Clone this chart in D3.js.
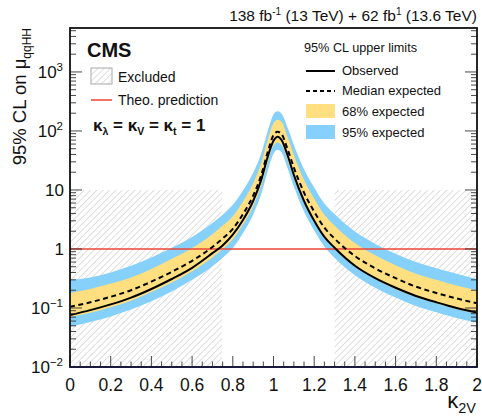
<!DOCTYPE html>
<html><head><meta charset="utf-8">
<script src="https://cdn.jsdelivr.net/npm/d3@7"></script>
<style>
html,body{margin:0;padding:0;background:#fff;}
svg{display:block;font-family:"Liberation Sans",Arial,Helvetica,sans-serif;}
</style></head>
<body><svg id="c" width="482" height="418"></svg>
<script>
// ---- data ----
const k2v = [0,0.1,0.2,0.3,0.4,0.5,0.6,0.7,0.75,0.8,0.85,0.9,0.94,0.97,1.0,1.02,1.04,1.07,1.1,1.15,1.2,1.25,1.3,1.4,1.5,1.6,1.7,1.8,1.9,2.0];
const observed = [0.076,0.092,0.115,0.15,0.21,0.31,0.48,0.85,1.15,1.75,3.1,6.5,15,35,68,80,70,38,18,6.5,3.0,1.6,1.05,0.52,0.32,0.22,0.16,0.125,0.10,0.084];
const median   = [0.105,0.125,0.155,0.2,0.28,0.41,0.63,1.08,1.5,2.2,3.9,8.0,18,42,85,97,88,48,24,9.0,4.3,2.3,1.5,0.76,0.47,0.32,0.23,0.18,0.145,0.12];
const band68lo = [0.071,0.083,0.103,0.133,0.186,0.27,0.42,0.72,1.0,1.46,2.6,5.3,12,28,57,64,58,32,16,6.0,2.85,1.53,1.0,0.5,0.31,0.21,0.153,0.12,0.096,0.08];
const band68hi = [0.18,0.21,0.26,0.33,0.46,0.68,1.04,1.78,2.5,3.6,6.4,13,29,68,135,155,142,78,39,14.8,7.1,3.8,2.5,1.26,0.78,0.53,0.38,0.3,0.24,0.2];
const band95lo = [0.048,0.058,0.072,0.094,0.13,0.19,0.30,0.51,0.71,1.04,1.85,3.8,8.6,20,41,48,43,23,11.5,4.3,2.05,1.1,0.71,0.36,0.22,0.15,0.108,0.085,0.068,0.056];
const band95hi = [0.30,0.33,0.40,0.52,0.72,1.05,1.6,2.75,3.8,5.6,9.8,19.5,42,95,190,215,195,112,58,22.5,11,5.9,3.9,1.97,1.22,0.83,0.6,0.47,0.38,0.31];
const excluded = [[0,0.747],[1.30,2]];   // kappa_2V ranges
const excludedTop = 10;
const theoPrediction = 1;
const xTicks = [0,0.2,0.4,0.6,0.8,1,1.2,1.4,1.6,1.8,2];
const xTickLabels = ["0","0.2","0.4","0.6","0.8","1","1.2","1.4","1.6","1.8","2"];
const yTicks = [0.01,0.1,1,10,100,1000];
const yTickBase = ["10","10","1","10","10","10"];
const yTickExp  = ["\u22122","\u22121","","","2","3"];

// ---- layout ----
const svg = d3.select("#c");
const L=70, R=477, T=28, B=367;
const x = d3.scaleLinear().domain([0,2]).range([L,R]);
const y = d3.scaleLog().domain([0.01, Math.pow(10,3.745)]).range([B,T]);

const defs = svg.append("defs");
const pat = defs.append("pattern").attr("id","hatch").attr("patternUnits","userSpaceOnUse")
  .attr("width",4.5).attr("height",4.5).attr("patternTransform","rotate(45)");
pat.append("line").attr("x1",0).attr("y1",0).attr("x2",0).attr("y2",4.5)
  .attr("stroke","#bdbdbd").attr("stroke-width",1);
defs.append("clipPath").attr("id","clip").append("rect")
  .attr("x",L).attr("y",T).attr("width",R-L).attr("height",B-T);

const g = svg.append("g").attr("clip-path","url(#clip)");
// excluded hatched regions
g.selectAll("rect.ex").data(excluded).join("rect").attr("class","ex")
  .attr("x",d=>x(d[0])).attr("width",d=>x(d[1])-x(d[0]))
  .attr("y",y(excludedTop)).attr("height",B-y(excludedTop))
  .attr("fill","url(#hatch)");

const idx = d3.range(k2v.length);
const area = (lo,hi)=>d3.area().curve(d3.curveMonotoneX)
  .x(i=>x(k2v[i])).y0(i=>y(lo[i])).y1(i=>y(hi[i]));
g.append("path").attr("d",area(band95lo,band95hi)(idx)).attr("fill","#85D1FB");
g.append("path").attr("d",area(band68lo,band68hi)(idx)).attr("fill","#FFDF7F");

// theory line
g.append("line").attr("x1",L).attr("x2",R).attr("y1",y(theoPrediction)).attr("y2",y(theoPrediction))
  .attr("stroke","#ec4438").attr("stroke-width",1.5);

const line = arr=>d3.line().curve(d3.curveMonotoneX).x(i=>x(k2v[i])).y(i=>y(arr[i]));
g.append("path").attr("d",line(median)(idx)).attr("fill","none").attr("stroke","#000")
  .attr("stroke-width",2).attr("stroke-dasharray","5,3.5");
g.append("path").attr("d",line(observed)(idx)).attr("fill","none").attr("stroke","#000")
  .attr("stroke-width",2);

// ---- axes (ticks inside) ----
const ax = svg.append("g");
const xMinor = d3.range(0,2.0001,0.05);
xMinor.forEach(v=>{
  const major = xTicks.some(t=>Math.abs(t-v)<1e-6);
  ax.append("line").attr("x1",x(v)).attr("x2",x(v)).attr("y1",B).attr("y2",B-(major?11:5.5))
    .attr("stroke","#333").attr("stroke-width",0.9);
});
xTicks.forEach((v,i)=>{
  ax.append("text").attr("x",x(v)).attr("y",391).attr("text-anchor","middle")
    .attr("font-size",17.5).attr("fill","#111").text(xTickLabels[i]);
});
const yMinor=[];
for(let e=-2;e<=3;e++){ for(let m=1;m<=9;m++){ const v=m*Math.pow(10,e); if(v<=Math.pow(10,3.745)) yMinor.push(v);} }
yMinor.forEach(v=>{
  const major = Math.abs(Math.log10(v)-Math.round(Math.log10(v)))<1e-9;
  const len = major?12:6;
  ax.append("line").attr("x1",L).attr("x2",L+len).attr("y1",y(v)).attr("y2",y(v)).attr("stroke","#333").attr("stroke-width",0.9);
  ax.append("line").attr("x1",R).attr("x2",R-len).attr("y1",y(v)).attr("y2",y(v)).attr("stroke","#333").attr("stroke-width",0.9);
});
yTicks.forEach((v,i)=>{
  const t = ax.append("text").attr("x",yTickExp[i]?63:64).attr("y",y(v)+6).attr("text-anchor","end")
    .attr("font-size",17).attr("fill","#111");
  t.append("tspan").text(yTickBase[i]);
  if(yTickExp[i]) t.append("tspan").attr("dy",-7).attr("font-size",11.5).text(yTickExp[i]);
});
// frame
svg.append("rect").attr("x",L).attr("y",T).attr("width",R-L).attr("height",B-T)
  .attr("fill","none").attr("stroke","#111").attr("stroke-width",1.8);
svg.append("line").attr("x1",L).attr("x2",R).attr("y1",B).attr("y2",B).attr("stroke","#1a1a3a").attr("stroke-width",2.2);

// ---- titles ----
const xt = svg.append("text").attr("x",476).attr("y",408).attr("text-anchor","end").attr("font-size",22).attr("fill","#111");
xt.append("tspan").text("\u03BA");
xt.append("tspan").attr("dy",5).attr("font-size",14.5).text("2V");

const yt = svg.append("text").attr("transform","translate(26,28) rotate(-90)").attr("text-anchor","end")
  .attr("font-size",18.5).attr("fill","#111");
yt.append("tspan").text("95% CL on \u03BC");
yt.append("tspan").attr("dy",5).attr("font-size",12).text("qqHH");

const lt = svg.append("text").attr("x",477).attr("y",21).attr("text-anchor","end").attr("font-size",15.5).attr("fill","#111");
lt.append("tspan").text("138 fb");
lt.append("tspan").attr("dy",-6).attr("font-size",10).text("-1");
lt.append("tspan").attr("dy",6).text(" (13 TeV) + 62 fb");
lt.append("tspan").attr("dy",-6).attr("font-size",10).text("1");
lt.append("tspan").attr("dy",6).text(" (13.6 TeV)");

svg.append("text").attr("x",87).attr("y",57).attr("font-size",20).attr("font-weight","bold").attr("fill","#111").text("CMS");

// left legend
svg.append("rect").attr("x",91).attr("y",68).attr("width",21).attr("height",16).attr("fill","url(#hatch)")
  .attr("stroke","#aaa").attr("stroke-width",1);
svg.append("text").attr("x",118).attr("y",82).attr("font-size",14).attr("fill","#111").text("Excluded");
svg.append("line").attr("x1",91).attr("x2",112).attr("y1",100).attr("y2",100).attr("stroke","#ec4438").attr("stroke-width",1.5);
svg.append("text").attr("x",118).attr("y",105).attr("font-size",14).attr("fill","#111").text("Theo. prediction");

const kt = svg.append("text").attr("x",93).attr("y",131).attr("font-size",17).attr("font-weight","bold").attr("fill","#111");
kt.append("tspan").text("\u03BA");
kt.append("tspan").attr("dy",4).attr("font-size",10.5).text("\u03BB");
kt.append("tspan").attr("dy",-4).text(" = \u03BA");
kt.append("tspan").attr("dy",4).attr("font-size",10.5).text("V");
kt.append("tspan").attr("dy",-4).text(" = \u03BA");
kt.append("tspan").attr("dy",4).attr("font-size",10.5).text("t");
kt.append("tspan").attr("dy",-4).text(" = 1");

// right legend
svg.append("text").attr("x",304).attr("y",52).attr("font-size",12.7).attr("fill","#111").text("95% CL upper limits");
svg.append("line").attr("x1",306).attr("x2",335).attr("y1",71).attr("y2",71).attr("stroke","#000").attr("stroke-width",2);
svg.append("text").attr("x",342).attr("y",75).attr("font-size",13).attr("fill","#111").text("Observed");
svg.append("line").attr("x1",306).attr("x2",335).attr("y1",91).attr("y2",91).attr("stroke","#000").attr("stroke-width",2).attr("stroke-dasharray","4,3");
svg.append("text").attr("x",342).attr("y",95).attr("font-size",13).attr("fill","#111").text("Median expected");
svg.append("rect").attr("x",306).attr("y",104).attr("width",29).attr("height",14).attr("fill","#FFDF7F");
svg.append("text").attr("x",342).attr("y",116).attr("font-size",13).attr("fill","#111").text("68% expected");
svg.append("rect").attr("x",306).attr("y",125).attr("width",29).attr("height",14).attr("fill","#85D1FB");
svg.append("text").attr("x",342).attr("y",137).attr("font-size",13).attr("fill","#111").text("95% expected");
</script></body></html>
